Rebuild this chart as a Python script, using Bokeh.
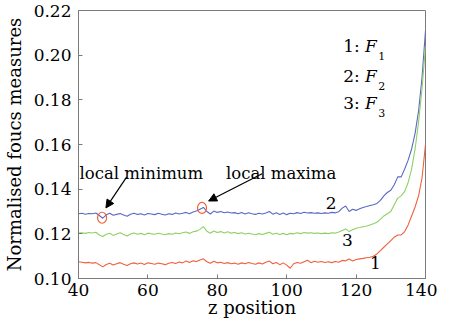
from bokeh.plotting import figure
from bokeh.models import Range1d, FixedTicker, Arrow, NormalHead
from bokeh.core.properties import value
from bokeh.embed import file_html
from bokeh.resources import INLINE

# ---------------- data ----------------
z = list(range(40, 141))

# curve 2 (blue)
f2 = [.1290, .1292, .1288, .1291, .1290, .1293, .1282, .1270, .1285, .1292,
      .1283, .1287, .1291, .1284, .1279, .1288, .1292, .1287, .1290, .1284,
      .1291, .1289, .1286, .1292, .1288, .1284, .1290, .1287, .1293, .1289,
      .1292, .1296, .1290, .1298, .1302, .1310, .1318, .1300, .1289, .1302,
      .1296, .1300, .1294, .1298, .1293, .1295, .1290, .1296, .1289, .1294,
      .1290, .1287, .1292, .1289, .1293, .1300, .1288, .1294, .1287, .1293,
      .1286, .1292, .1290, .1295, .1291, .1297, .1293, .1295, .1292, .1294,
      .1291, .1294, .1292, .1296, .1294, .1299, .1315, .1325, .1300, .1310,
      .1305, .1312, .1318, .1322, .1327, .1330, .1336, .1350, .1370, .1385,
      .1395, .1420, .1455, .1455, .1490, .1530, .1580, .1650, .1750, .1900, .2110]

# curve 3 (green)
f3 = [.1203, .1205, .1202, .1206, .1204, .1207, .1195, .1188, .1198, .1203,
      .1193, .1199, .1205, .1197, .1190, .1199, .1204, .1198, .1202, .1196,
      .1203, .1200, .1198, .1203, .1199, .1196, .1201, .1198, .1204, .1200,
      .1205, .1208, .1202, .1209, .1212, .1220, .1232, .1212, .1203, .1213,
      .1206, .1210, .1204, .1209, .1203, .1206, .1201, .1205, .1199, .1203,
      .1199, .1196, .1201, .1197, .1202, .1207, .1198, .1203, .1197, .1202,
      .1196, .1202, .1200, .1205, .1201, .1206, .1203, .1205, .1202, .1204,
      .1201, .1203, .1201, .1205, .1203, .1208, .1215, .1222, .1210, .1218,
      .1225, .1228, .1232, .1235, .1240, .1245, .1252, .1265, .1280, .1290,
      .1300, .1330, .1360, .1370, .1390, .1430, .1490, .1580, .1700, .1850, .2040]

# curve 1 (red)
f1 = [.1075, .1073, .1070, .1072, .1069, .1071, .1062, .1052, .1063, .1068,
      .1060, .1066, .1071, .1064, .1058, .1066, .1070, .1065, .1069, .1063,
      .1070, .1067, .1064, .1069, .1066, .1062, .1068, .1072, .1067, .1074,
      .1070, .1078, .1072, .1079, .1076, .1083, .1088, .1075, .1068, .1077,
      .1070, .1073, .1067, .1071, .1066, .1069, .1064, .1070, .1066, .1072,
      .1067, .1064, .1070, .1065, .1073, .1078, .1066, .1072, .1062, .1070,
      .1060, .1046, .1066, .1072, .1068, .1075, .1082, .1071, .1077, .1073,
      .1076, .1072, .1075, .1071, .1076, .1073, .1081, .1079, .1087, .1078,
      .1085, .1088, .1090, .1093, .1095, .1100, .1110, .1125, .1140, .1155,
      .1170, .1185, .1195, .1195, .1210, .1240, .1280, .1320, .1370, .1450, .1600]

x_ticks = [40, 60, 80, 100, 120, 140]
y_ticks = [0.10, 0.12, 0.14, 0.16, 0.18, 0.20, 0.22]
y_tick_labels = ["0.10", "0.12", "0.14", "0.16", "0.18", "0.20", "0.22"]

# annotation points (local extremes)
extreme_z = [46.8, 75.6]
extreme_v = [0.1272, 0.1316]

# ---------------- styles ----------------
FONT = "DejaVu Serif"
BLUE = "#5b68c4"
GREEN = "#8fd064"
RED = "#f0603c"
AXIS_C = "#7a7a7a"

p = figure(width=437, height=320, output_backend="svg", toolbar_location=None,
           x_range=Range1d(40, 140), y_range=Range1d(0.10, 0.22),
           min_border_left=71, min_border_right=12, min_border_top=10,
           min_border_bottom=40)
p.background_fill_color = "white"
p.border_fill_color = "white"
p.grid.visible = False
p.outline_line_color = AXIS_C
p.outline_line_width = 1

p.line(z, f2, line_color=BLUE, line_width=1.1)
p.line(z, f3, line_color=GREEN, line_width=1.1)
p.line(z, f1, line_color=RED, line_width=1.1)

# axes
p.xaxis.ticker = FixedTicker(ticks=x_ticks)
p.yaxis.ticker = FixedTicker(ticks=y_ticks)
p.yaxis.major_label_overrides = {t: l for t, l in zip(y_ticks, y_tick_labels)}
for ax in (p.xaxis[0], p.yaxis[0]):
    ax.axis_line_color = AXIS_C
    ax.major_tick_line_color = AXIS_C
    ax.major_tick_in = 4
    ax.major_tick_out = 0
    ax.minor_tick_line_color = None
    ax.major_label_text_font = FONT
    ax.major_label_text_font_size = "17px"
    ax.major_label_text_color = "black"
    ax.axis_label_text_font = FONT
    ax.axis_label_text_font_size = "18px"
    ax.axis_label_text_font_style = "normal"
    ax.axis_label_text_color = "black"
p.xaxis.axis_label = "z position"
p.xaxis.major_label_standoff = 5
p.xaxis.axis_label_standoff = -2
p.yaxis.axis_label = "Normalised foucs measures"
p.yaxis.major_label_standoff = 7
p.yaxis.axis_label_standoff = 6

# circles around local extremes
p.ellipse(x=extreme_z, y=extreme_v, width=9, height=11,
          width_units="screen", height_units="screen",
          fill_color=None, line_color=RED, line_width=1.2)

# arrows
head = dict(size=8, fill_color="black", line_color="black")
p.add_layout(Arrow(x_start=53.9, y_start=0.1455, x_end=47.9, y_end=0.1316,
                   end=NormalHead(**head), line_color="black", line_width=1.2))
p.add_layout(Arrow(x_start=92.9, y_start=0.1469, x_end=77.5, y_end=0.1347,
                   end=NormalHead(**head), line_color="black", line_width=1.2))

tf = value(FONT)
p.text(x=[40.3], y=[0.1469], text=["local minimum"], text_font=tf,
       text_font_size=value("16.5px"), text_baseline="alphabetic", text_align="left")
p.text(x=[82.5], y=[0.1469], text=["local maxima"], text_font=tf,
       text_font_size=value("16.5px"), text_baseline="alphabetic", text_align="left")

# curve number labels
p.text(x=[112.8, 117.5, 125.6], y=[0.1338, 0.1171, 0.1070], text=["2", "3", "1"],
       text_font=tf, text_font_size=value("17px"), text_align="center",
       text_baseline="middle")

# key text  "n: F_n"
key_y = [0.2039, 0.1908, 0.1785]
p.text(x=[116.3] * 3, y=key_y, text=["1:", "2:", "3:"], text_font=tf,
       text_font_size=value("17px"), text_align="left", text_baseline="middle")
p.text(x=[122.6] * 3, y=key_y, text=["F", "F", "F"], text_font=tf,
       text_font_style="italic",
       text_font_size=value("17px"), text_align="left", text_baseline="middle")
p.text(x=[126.4] * 3, y=[v - 0.0044 for v in key_y], text=["1", "2", "3"],
       text_font=tf, text_font_size=value("11px"), text_align="left",
       text_baseline="middle")

open("out.html", "w").write(file_html(p, INLINE))
